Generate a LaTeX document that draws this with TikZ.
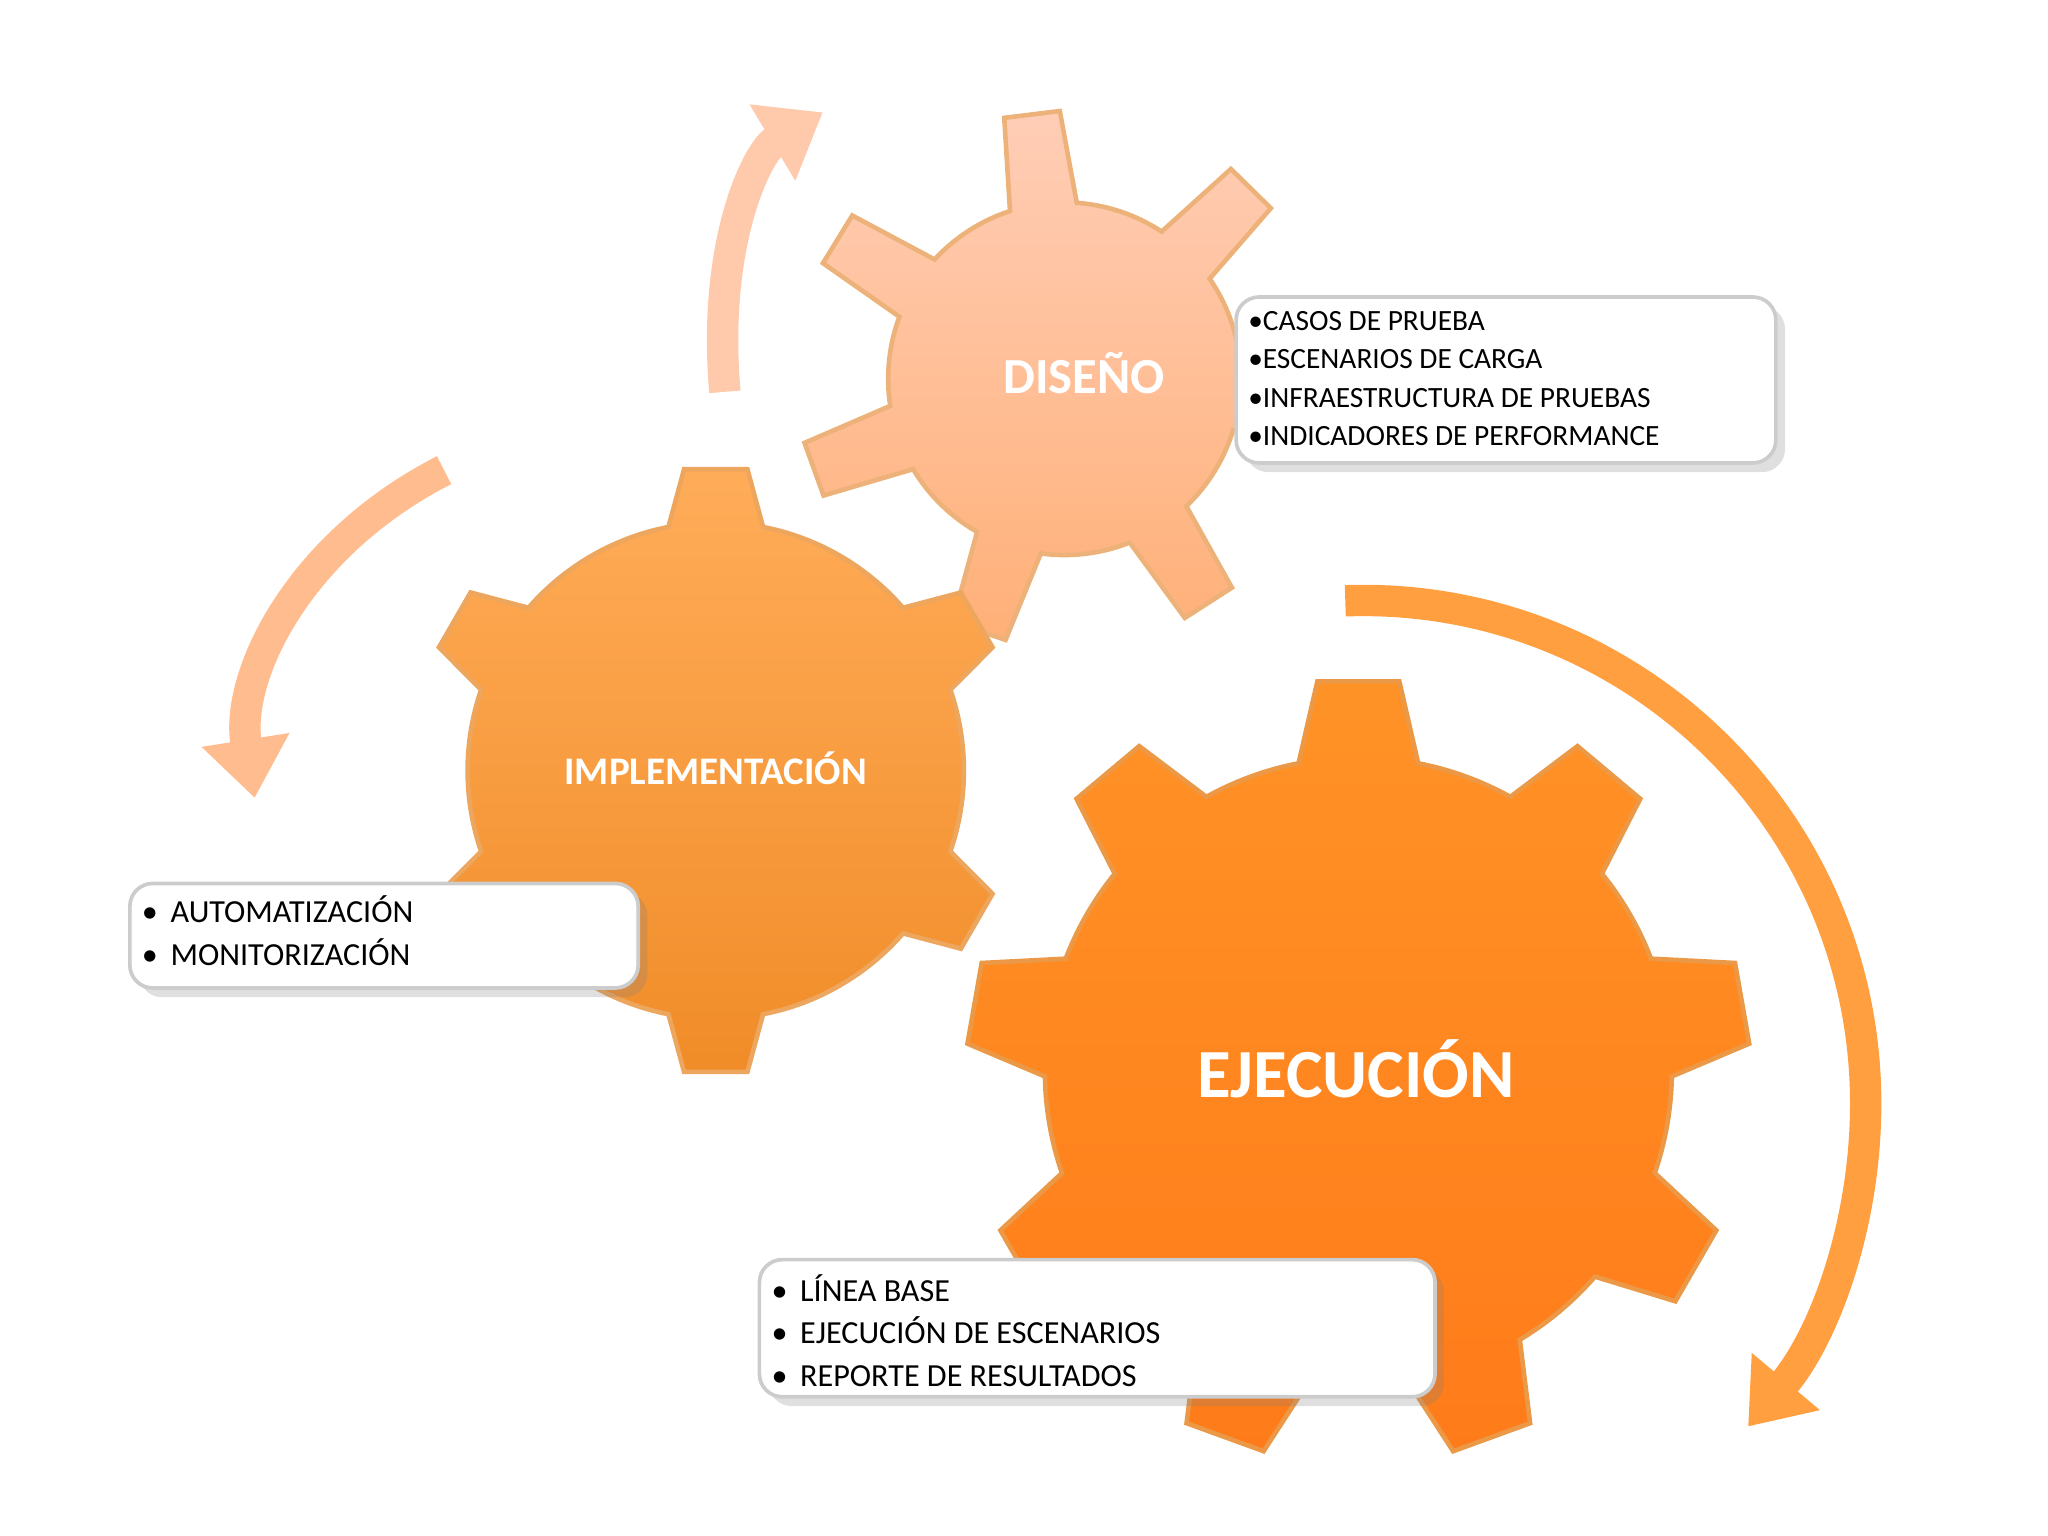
\documentclass[tikz,border=0pt]{standalone}
\usepackage{fontspec}
\setmainfont{Carlito}
\usetikzlibrary{arrows.meta,shadows,calc}
\newcommand\mygear[8]{%
  \coordinate (#1) at (#2,#3);
  \pgfmathsetmacro\gstep{360/#6}
  \path[#8] ($(#1)+(#7-12:#4)$)
   \foreach \i [evaluate=\i as \a using #7+(\i-1)*\gstep] in {1,...,#6}{
     -- ($(#1)+(\a-11:#4)$) -- ($(#1)+(\a-6:#5)$) -- ($(#1)+(\a+6:#5)$) -- ($(#1)+(\a+11:#4)$)
     arc[start angle=\a+11, end angle=\a+\gstep-11, radius=#4]
   } -- cycle;}
\tikzset{
  infobox/.style={draw=black!20, line width=0.8pt, fill=white, rounded corners=5pt, drop shadow={opacity=0.25, shadow xshift=2pt, shadow yshift=-2pt}, anchor=north west, inner sep=0pt},
  bigarrow/.style={line width=0.24cm, -{Triangle[length=0.45cm,width=0.65cm]}},
  glabel/.style={text=white}
}
\begin{document}
\begin{tikzpicture}[x=0.01cm,y=0.01cm]
\useasboundingbox (0,0) rectangle (1568,1176);
% arrows
\draw[bigarrow, draw=orange!40!pink!60, color=orange!40!pink!60] (555,876) .. controls (545,990) and (580,1060) .. (630,1090);
\draw[bigarrow, draw=orange!50!pink!70, color=orange!50!pink!70] (340,816) .. controls (230,760) and (180,660) .. (195,565);
\draw[bigarrow, draw=orange!75!white, color=orange!75!white] (1030,716) arc[start angle=92, end angle=-40, radius=385];
% gears
\mygear{dis}{815}{886}{135}{205}{7}{97}{{draw=orange!50!brown!60, line width=1pt, top color=orange!30!pink!60, bottom color=orange!55!pink!80}}
\mygear{imp}{548}{586}{190}{232}{6}{90}{{draw=orange!60!brown!70, line width=1pt, top color=orange!65!white, bottom color=orange!75!brown!90}}
\mygear{eje}{1040}{356}{240}{300}{9}{90}{{draw=orange!60!brown!80, line width=1pt, top color=orange!85!white, bottom color=orange!85!red!90}}
\node[glabel, font=\bfseries\fontsize{11}{13}\selectfont] (tdis) at (830,890) {DISEÑO};
\node[glabel, font=\bfseries\fontsize{8.5}{10}\selectfont] (timp) at (548,588) {IMPLEMENTACIÓN};
\node[glabel, font=\bfseries\fontsize{15}{18}\selectfont] (teje) at (1038,358) {EJECUCIÓN};
% boxes
\node[infobox, minimum width=4.13cm, minimum height=1.27cm] (bdis) at (945,950) {};
\node[anchor=north west, align=left, font=\fontsize{6.4}{8.3}\selectfont, inner sep=0pt] (tbdis) at (955,938) {•CASOS DE PRUEBA\\•ESCENARIOS DE CARGA\\•INFRAESTRUCTURA DE PRUEBAS\\•INDICADORES DE PERFORMANCE};
\node[infobox, minimum width=3.89cm, minimum height=0.8cm] (bimp) at (98,501) {};
\node[anchor=north west, align=left, font=\fontsize{7}{9.3}\selectfont, inner sep=0pt] (tbimp) at (108,491) {•\, AUTOMATIZACIÓN\\•\, MONITORIZACIÓN};
\node[infobox, minimum width=5.17cm, minimum height=1.05cm] (beje) at (580,213) {};
\node[anchor=north west, align=left, font=\fontsize{7}{9.3}\selectfont, inner sep=0pt] (tbeje) at (590,201) {•\, LÍNEA BASE\\•\, EJECUCIÓN DE ESCENARIOS\\•\, REPORTE DE RESULTADOS};
\end{tikzpicture}
\end{document}
